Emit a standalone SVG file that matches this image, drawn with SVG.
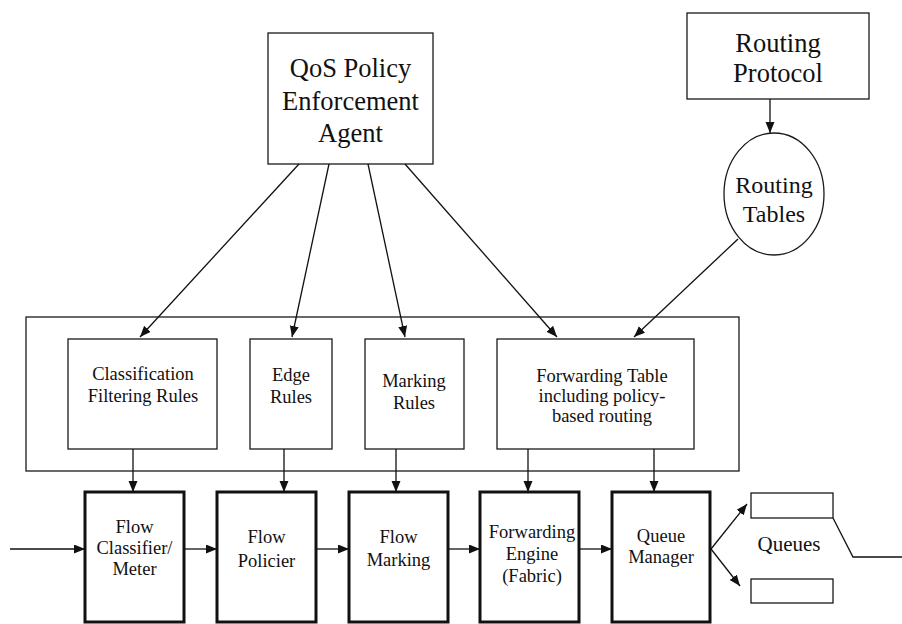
<svg xmlns="http://www.w3.org/2000/svg" width="902" height="624" viewBox="0 0 902 624">
  <style>
    .box { fill: #fff; stroke: #1a1a1a; stroke-width: 1.3; }
    .thick { fill: #fff; stroke: #111; stroke-width: 3; }
    .edge { fill: none; stroke: #111; stroke-width: 1.3; }
    text { font-family: 'Liberation Serif', 'Times New Roman', Times, 'DejaVu Serif', serif; fill: #111; text-anchor: middle; }
    .big { font-size: 26.5px; }
    .mid { font-size: 24px; }
    .rule { font-size: 18.5px; }
    .stage { font-size: 18.5px; }
  </style>
  <defs>
    <marker id="arrow" markerUnits="userSpaceOnUse" markerWidth="12" markerHeight="10" refX="11" refY="4.5" orient="auto">
      <path d="M0,0 L11,4.5 L0,9 Z" fill="#111"/>
    </marker>
  </defs>

  <!-- policy rule container -->
  <rect id="rule-container" class="box" x="26" y="317" width="713" height="154"/>

  <g id="qos-agent">
    <rect class="box" x="268" y="33" width="165" height="131"/>
    <text class="big" x="350.5" y="77">QoS Policy</text>
    <text class="big" x="350.5" y="110">Enforcement</text>
    <text class="big" x="350.5" y="142">Agent</text>
  </g>

  <g id="routing-protocol">
    <rect class="box" x="687" y="13" width="182" height="86"/>
    <text class="big" x="778" y="52">Routing</text>
    <text class="big" x="778" y="82">Protocol</text>
  </g>

  <g id="routing-tables">
    <ellipse class="box" cx="774" cy="194" rx="50" ry="61"/>
    <text class="mid" x="774" y="193">Routing</text>
    <text class="mid" x="774" y="222">Tables</text>
  </g>

  <g id="classification-rules">
    <rect class="box" x="68" y="339" width="149" height="110"/>
    <text class="rule" x="143" y="380">Classification</text>
    <text class="rule" x="143" y="402">Filtering Rules</text>
  </g>

  <g id="edge-rules">
    <rect class="box" x="250" y="339" width="82" height="110"/>
    <text class="rule" x="291" y="381">Edge</text>
    <text class="rule" x="291" y="403">Rules</text>
  </g>

  <g id="marking-rules">
    <rect class="box" x="365" y="339" width="99" height="110"/>
    <text class="rule" x="414" y="387">Marking</text>
    <text class="rule" x="414" y="409">Rules</text>
  </g>

  <g id="forwarding-table">
    <rect class="box" x="497" y="339" width="197" height="110"/>
    <text class="rule" x="602" y="382">Forwarding Table</text>
    <text class="rule" x="602" y="402">including policy-</text>
    <text class="rule" x="602" y="422">based routing</text>
  </g>

  <g id="flow-classifier">
    <rect class="thick" x="85" y="492" width="99" height="130"/>
    <text class="stage" x="134.5" y="533">Flow</text>
    <text class="stage" x="134.5" y="554">Classifier/</text>
    <text class="stage" x="134.5" y="575">Meter</text>
  </g>

  <g id="flow-policier">
    <rect class="thick" x="217" y="492" width="99" height="130"/>
    <text class="stage" x="266.5" y="543">Flow</text>
    <text class="stage" x="266.5" y="567">Policier</text>
  </g>

  <g id="flow-marking">
    <rect class="thick" x="349" y="492" width="99" height="130"/>
    <text class="stage" x="398.5" y="543">Flow</text>
    <text class="stage" x="398.5" y="566">Marking</text>
  </g>

  <g id="forwarding-engine">
    <rect class="thick" x="480" y="492" width="99" height="130"/>
    <text class="stage" x="532" y="538">Forwarding</text>
    <text class="stage" x="532" y="560">Engine</text>
    <text class="stage" x="532" y="582">(Fabric)</text>
  </g>

  <g id="queue-manager">
    <rect class="thick" x="612" y="492" width="98" height="130"/>
    <text class="stage" x="661" y="542">Queue</text>
    <text class="stage" x="661" y="563">Manager</text>
  </g>

  <g id="queue-1">
    <rect class="box" x="751" y="493" width="82" height="25"/>
  </g>
  <g id="queue-2">
    <rect class="box" x="751" y="579" width="82" height="24"/>
  </g>
  <g id="queues-label">
    <text x="789" y="551" style="font-size:21px">Queues</text>
  </g>

  <g id="connectors">
    <!-- agent to rule tables -->
    <line class="edge" x1="299" y1="164" x2="140" y2="337" marker-end="url(#arrow)"/>
    <line class="edge" x1="329" y1="164" x2="292" y2="337" marker-end="url(#arrow)"/>
    <line class="edge" x1="368" y1="164" x2="405" y2="337" marker-end="url(#arrow)"/>
    <line class="edge" x1="405" y1="164" x2="557" y2="337" marker-end="url(#arrow)"/>
    <!-- routing protocol to tables, tables to forwarding table -->
    <line class="edge" x1="770" y1="99" x2="770" y2="133" marker-end="url(#arrow)"/>
    <line class="edge" x1="738" y1="239" x2="634" y2="337" marker-end="url(#arrow)"/>
    <!-- rule tables down to pipeline stages -->
    <line class="edge" x1="133" y1="449" x2="133" y2="492" marker-end="url(#arrow)"/>
    <line class="edge" x1="284" y1="449" x2="284" y2="492" marker-end="url(#arrow)"/>
    <line class="edge" x1="396" y1="449" x2="396" y2="492" marker-end="url(#arrow)"/>
    <line class="edge" x1="528" y1="449" x2="528" y2="492" marker-end="url(#arrow)"/>
    <line class="edge" x1="654" y1="449" x2="654" y2="492" marker-end="url(#arrow)"/>
    <!-- packet path -->
    <line class="edge" x1="10" y1="549" x2="85" y2="549" marker-end="url(#arrow)"/>
    <line class="edge" x1="185" y1="549" x2="217" y2="549" marker-end="url(#arrow)"/>
    <line class="edge" x1="317" y1="549" x2="349" y2="549" marker-end="url(#arrow)"/>
    <line class="edge" x1="449" y1="549" x2="480" y2="549" marker-end="url(#arrow)"/>
    <line class="edge" x1="580" y1="549" x2="612" y2="549" marker-end="url(#arrow)"/>
    <!-- queue manager to queues -->
    <line class="edge" x1="711" y1="549" x2="747" y2="504" marker-end="url(#arrow)"/>
    <line class="edge" x1="711" y1="549" x2="740" y2="586" marker-end="url(#arrow)"/>
    <!-- output link -->
    <polyline class="edge" points="833,518 853,557 902,557"/>
  </g>
</svg>
